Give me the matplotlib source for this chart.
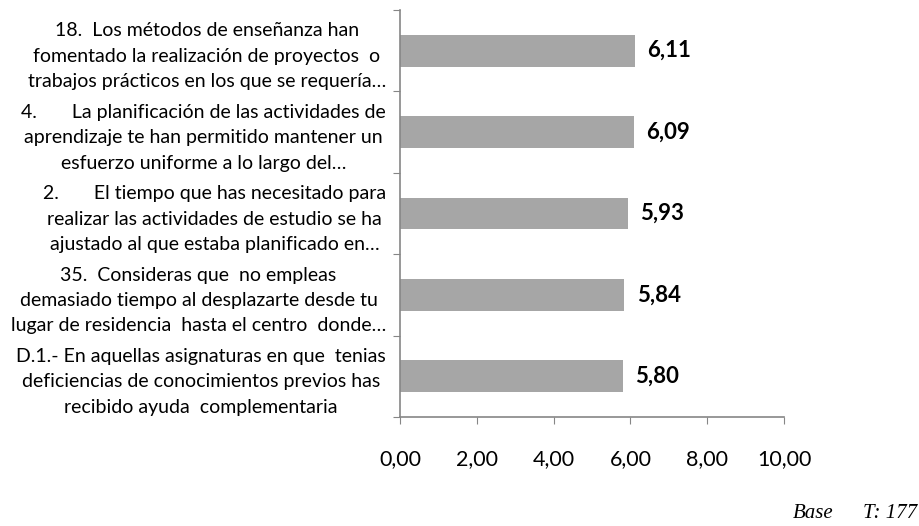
import matplotlib
matplotlib.use("Agg")
import matplotlib.pyplot as plt

# data (top to bottom as shown)
labels = [
    "18.  Los métodos de enseñanza han\nfomentado la realización de proyectos  o\ntrabajos prácticos en los que se requería…",
    "4.       La planificación de las actividades de\naprendizaje te han permitido mantener un\nesfuerzo uniforme a lo largo del…",
    "2.       El tiempo que has necesitado para\nrealizar las actividades de estudio se ha\najustado al que estaba planificado en…",
    "35.  Consideras que  no empleas\ndemasiado tiempo al desplazarte desde tu\nlugar de residencia  hasta el centro  donde…",
    "D.1.- En aquellas asignaturas en que  tenias\ndeficiencias de conocimientos previos has\nrecibido ayuda  complementaria",
]
values = [6.11, 6.09, 5.93, 5.84, 5.80]
xticks = [0, 2, 4, 6, 8, 10]

plt.rcParams['font.family'] = ['Lato', 'DejaVu Sans']
axis_col = '#868686'

fig = plt.figure(figsize=(9.2, 5.26), dpi=100)
ax = fig.add_axes([400/920, 1-417/526, 384/920, 407/526])

pos = list(range(len(values)))
ax.barh(pos, values, height=0.39, color='#A6A6A6')
ax.set_ylim(len(values)-0.5, -0.5)
ax.set_xlim(0, 10)

for p, v in zip(pos, values):
    ax.annotate(f"{v:.2f}".replace('.', ','), (v, p), xytext=(9, 0),
                textcoords='offset points', va='center', ha='left',
                fontsize=16, fontweight='bold', color='black')

ax.set_xticks(xticks)
ax.set_xticklabels([f"{t:.2f}".replace('.', ',') for t in xticks], fontsize=15.5)
ax.set_yticks([i - 0.5 for i in range(len(values)+1)])
ax.set_yticklabels([])
ax.set_yticks(pos, minor=True)
ax.set_yticklabels(labels, minor=True, fontsize=14, multialignment='center',
                   linespacing=1.6)
ax.tick_params(axis='y', which='minor', length=0, pad=10)
ax.tick_params(axis='y', which='major', length=5, color=axis_col, direction='out')
ax.tick_params(axis='x', length=5, color=axis_col, direction='out', pad=18)

for s in ['top', 'right']:
    ax.spines[s].set_visible(False)
for s in ['left', 'bottom']:
    ax.spines[s].set_color(axis_col)
    ax.spines[s].set_linewidth(1.2)

fig.text(793/920, 1-513/526, "Base", fontsize=15, style='italic',
         family=['Liberation Serif', 'DejaVu Serif'], va='center')
fig.text(917/920, 1-513/526, "T: 177", fontsize=15, style='italic',
         family=['Liberation Serif', 'DejaVu Serif'], va='center', ha='right')

fig.savefig("out.png", dpi=100)
